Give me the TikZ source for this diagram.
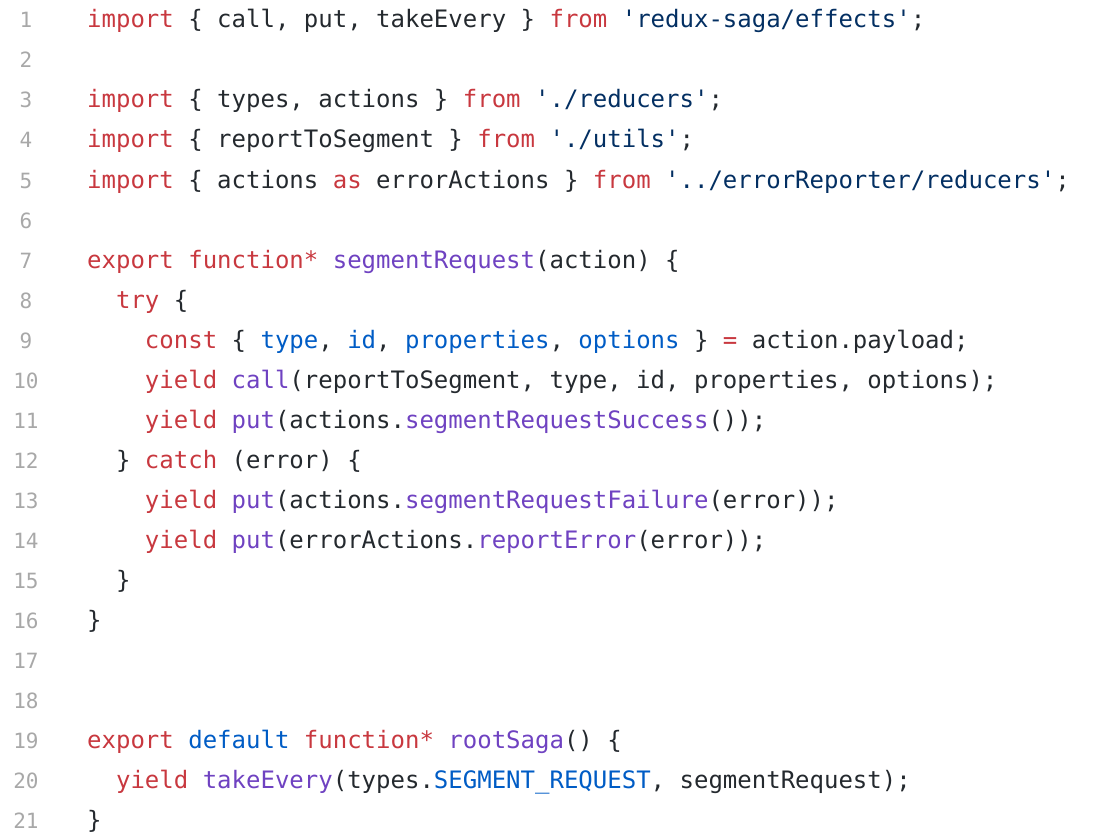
\documentclass[tikz,border=0pt]{standalone}
\usepackage{fontspec}
\setmonofont{DejaVu Sans Mono}
\usetikzlibrary{positioning}
\definecolor{kwred}{HTML}{C8383F}
\definecolor{fnpurple}{HTML}{6F42C1}
\definecolor{idblue}{HTML}{005CC5}
\definecolor{strnavy}{HTML}{032F62}
\definecolor{plain}{HTML}{24292E}
\definecolor{numgray}{HTML}{A8A8A8}
\newcommand{\kw}[1]{\textcolor{kwred}{#1}}
\newcommand{\fn}[1]{\textcolor{fnpurple}{#1}}
\newcommand{\idf}[1]{\textcolor{idblue}{#1}}
\newcommand{\str}[1]{\textcolor{strnavy}{#1}}
\newcommand{\ind}[1]{\hspace*{#1\fontcharwd\font`0}}
\begin{document}
\begin{tikzpicture}[x=1pt, y=-1pt,
        code/.style={anchor=base west, inner sep=0pt, font=\ttfamily\fontsize{24}{24}\selectfont, text=plain},
        num/.style={anchor=base, inner sep=0pt, font=\ttfamily\fontsize{21}{21}\selectfont, text=numgray}
    ]
    \useasboundingbox (0,0) rectangle (1098,840);

    % line numbers
    \foreach \n in {1,...,21}
        \node[num] (n\n) at (26,{28+40*(\n-1)}) {\n};

    % code lines
    \node[code] (l1) at (87,28) {\kw{import} \{ call, put, takeEvery \} \kw{from} \str{'redux-saga/effects'};};
    \node[code] (l3) at (87,108) {\kw{import} \{ types, actions \} \kw{from} \str{'./reducers'};};
    \node[code] (l4) at (87,148) {\kw{import} \{ reportToSegment \} \kw{from} \str{'./utils'};};
    \node[code] (l5) at (87,188) {\kw{import} \{ actions \kw{as} errorActions \} \kw{from} \str{'../errorReporter/reducers'};};
    \node[code] (l7) at (87,268) {\kw{export} \kw{function*} \fn{segmentRequest}(action) \{};
    \node[code] (l8) at (87,308) {\ind{2}\kw{try} \{};
    \node[code] (l9) at (87,348) {\ind{4}\kw{const} \{ \idf{type}, \idf{id}, \idf{properties}, \idf{options} \} \kw{=} action.payload;};
    \node[code] (l10) at (87,388) {\ind{4}\kw{yield} \fn{call}(reportToSegment, type, id, properties, options);};
    \node[code] (l11) at (87,428) {\ind{4}\kw{yield} \fn{put}(actions.\fn{segmentRequestSuccess}());};
    \node[code] (l12) at (87,468) {\ind{2}\} \kw{catch} (error) \{};
    \node[code] (l13) at (87,508) {\ind{4}\kw{yield} \fn{put}(actions.\fn{segmentRequestFailure}(error));};
    \node[code] (l14) at (87,548) {\ind{4}\kw{yield} \fn{put}(errorActions.\fn{reportError}(error));};
    \node[code] (l15) at (87,588) {\ind{2}\}};
    \node[code] (l16) at (87,628) {\}};
    \node[code] (l19) at (87,748) {\kw{export} \idf{default} \kw{function*} \fn{rootSaga}() \{};
    \node[code] (l20) at (87,788) {\ind{2}\kw{yield} \fn{takeEvery}(types.\idf{SEGMENT\_REQUEST}, segmentRequest);};
    \node[code] (l21) at (87,828) {\}};
\end{tikzpicture}
\end{document}
